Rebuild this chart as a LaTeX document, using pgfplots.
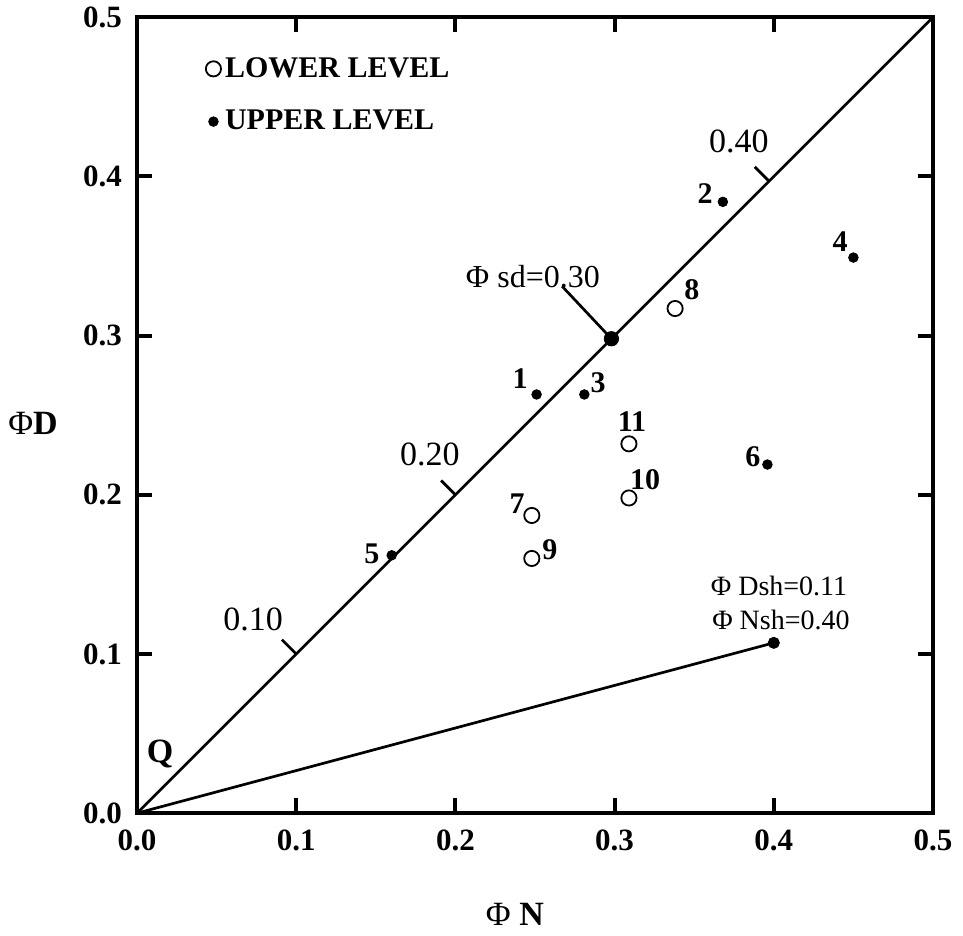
\documentclass[border=0pt]{standalone}
\usepackage{pgfplots}
\pgfplotsset{compat=1.18}
\usepackage{fontspec}
\setmainfont{Liberation Serif}

\begin{document}
\begin{tikzpicture}
\begin{axis}[
    at={(0,0)}, anchor=south west,
    scale only axis, width=398pt, height=398pt,
    xmin=0, xmax=0.5, ymin=0, ymax=0.5,
    xtick={0,0.1,0.2,0.3,0.4,0.5},
    ytick={0,0.1,0.2,0.3,0.4,0.5},
    tick align=inside, major tick length=7.5pt,
    axis line style={line width=2pt},
    every tick/.style={line width=2pt, black},
    tick label style={font=\fontsize{15.5}{17}\selectfont\bfseries},
    xticklabel style={yshift=-5pt},
    yticklabel style={xshift=-4pt},
    /pgf/number format/assume math mode=true,
    /pgf/number format/fixed,
    /pgf/number format/fixed zerofill,
    /pgf/number format/precision=1,
    clip=false,
    legend style={draw=none, fill=none, at={(axis cs:0.043,0.480)}, anchor=north west,
                  font=\fontsize{15}{17}\selectfont\bfseries, row sep=11pt,
                  inner xsep=0pt},
    legend cell align=left,
    legend image code/.code={\draw[mark repeat=2,mark phase=2,#1]
        plot coordinates {(0cm,0cm) (0.12cm,0cm) (0.24cm,0cm)};},
]

%% lower level (open circles)
\addplot[only marks, mark=o, mark size=3.8pt, mark options={line width=0.9pt}]
  coordinates {(0.248,0.187) (0.338,0.317) (0.248,0.160) (0.309,0.198) (0.309,0.232)};
\addlegendentry{LOWER LEVEL}

%% upper level (dots)
\addplot[only marks, mark=*, mark size=2.4pt]
  coordinates {(0.251,0.263) (0.368,0.384) (0.281,0.263) (0.450,0.349)
               (0.160,0.162) (0.396,0.219)};
\addlegendentry{UPPER LEVEL}

%% 1:1 line and shear line
\addplot[forget plot, line width=1.35pt] coordinates {(0,0) (0.5,0.5)};
\addplot[forget plot, line width=1.35pt] coordinates {(0,0) (0.400,0.107)};
\addplot[forget plot, only marks, mark=*, mark size=2.8pt] coordinates {(0.400,0.107)};

%% scale marks on the diagonal
\addplot[forget plot, line width=1.35pt] coordinates {(0.10,0.10) (0.091,0.109)};
\addplot[forget plot, line width=1.35pt] coordinates {(0.20,0.20) (0.191,0.209)};
\addplot[forget plot, line width=1.35pt] coordinates {(0.397,0.397) (0.388,0.406)};

%% sd point and leader
\addplot[forget plot, line width=1.35pt] coordinates {(0.298,0.298) (0.267,0.331)};
\addplot[forget plot, only marks, mark=*, mark size=3.6pt] coordinates {(0.298,0.298)};

\node[font=\fontsize{17}{19}\selectfont] at (axis cs:0.0729,0.1219) {0.10};
\node[font=\fontsize{17}{19}\selectfont] at (axis cs:0.184,0.2255) {0.20};
\node[font=\fontsize{17}{19}\selectfont] at (axis cs:0.378,0.422) {0.40};
\node[font=\fontsize{16}{18}\selectfont] at (axis cs:0.2487,0.3373) {Φ sd=0.30};
\node[font=\fontsize{14}{16}\selectfont] at (axis cs:0.4033,0.1426) {Φ Dsh=0.11};
\node[font=\fontsize{14}{16}\selectfont] at (axis cs:0.4045,0.1212) {Φ Nsh=0.40};
\node[font=\fontsize{17}{19}\selectfont\bfseries] at (axis cs:0.0145,0.037) {Q};

%% point numbers
\begin{scope}[every node/.style={font=\fontsize{15}{17}\selectfont\bfseries, inner sep=0pt}]
\node at (axis cs:0.2406,0.2732) {1};
\node at (axis cs:0.3568,0.3894) {2};
\node at (axis cs:0.2896,0.2701) {3};
\node at (axis cs:0.4416,0.3593) {4};
\node at (axis cs:0.1476,0.1627) {5};
\node at (axis cs:0.3869,0.2242) {6};
\node at (axis cs:0.2387,0.1941) {7};
\node at (axis cs:0.3486,0.3291) {8};
\node at (axis cs:0.2594,0.1658) {9};
\node at (axis cs:0.3191,0.2092) {10};
\node at (axis cs:0.3109,0.2462) {11};
\end{scope}

%% axis titles
\node[font=\fontsize{17}{19}\selectfont] at (axis cs:-0.0653,0.245) {Φ\textbf{D}};
\node[font=\fontsize{17}{19}\selectfont] at (axis cs:0.2374,-0.0634) {Φ \textbf{N}};
\end{axis}
\path (-68.5pt,-61pt) rectangle (413pt,406pt);
\end{tikzpicture}
\end{document}
